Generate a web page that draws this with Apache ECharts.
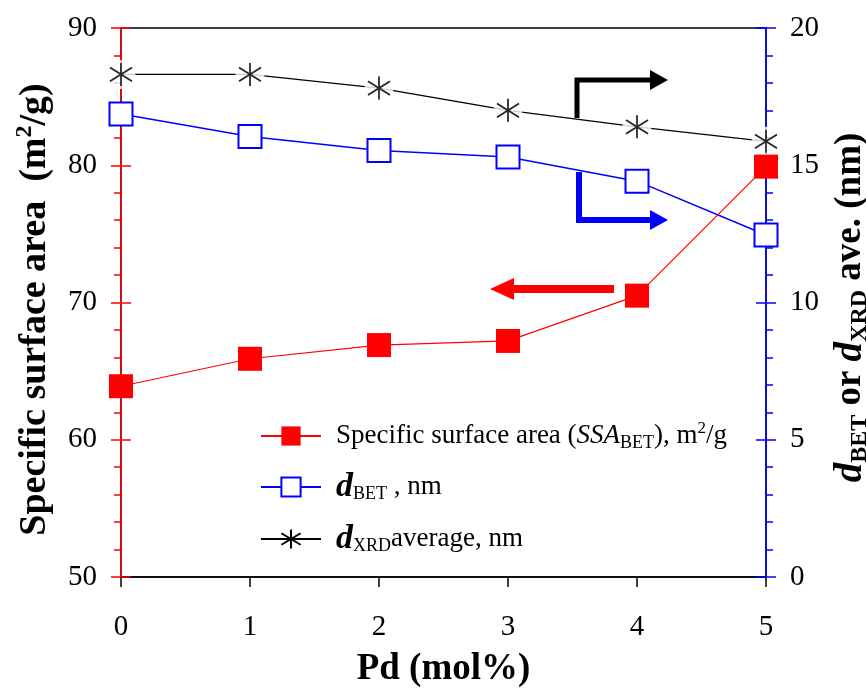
<!DOCTYPE html>
<html>
<head>
<meta charset="utf-8">
<script src="https://cdn.jsdelivr.net/npm/echarts@6/dist/echarts.min.js"></script>
<style>
  html, body { margin: 0; padding: 0; background: #fff; }
  #main { width: 866px; height: 691px; }
</style>
</head>
<body>
<div id="main"></div>
<script>
// Pd content (mol%)
var pd = [0, 1, 2, 3, 4, 5];
// specific surface area SSA_BET, m2/g (left axis)
var ssa = [63.9, 65.9, 66.9, 67.2, 70.5, 79.9];
// d_BET, nm (right axis)
var dBet = [16.87, 16.05, 15.54, 15.3, 14.42, 12.46];
// d_XRD average, nm (right axis)
var dXrd = [18.31, 18.31, 17.81, 17.0, 16.4, 15.87];

var serif = 'Liberation Serif';
var asterisk = 'path://M10,0L10,20M1,4L19,16M1,16L19,4';

function pairs(ys) {
  return pd.map(function (x, i) { return [x, ys[i]]; });
}

// hidden twin axis that only draws the inner half of the major ticks
function innerTicks(pos, min, max, interval, color) {
  return {
    type: 'value', position: pos, min: min, max: max, interval: interval,
    axisLine: { show: false },
    axisTick: { show: true, inside: true, length: 10, lineStyle: { color: color, width: 1.5 } },
    axisLabel: { show: false },
    splitLine: { show: false }
  };
}

var myChart = echarts.init(document.getElementById('main'));

myChart.setOption({
  animation: false,
  backgroundColor: '#fff',
  grid: {
    left: 121, right: 100, top: 28, bottom: 114,
    outerBoundsMode: 'none',
    show: true, borderColor: '#000', borderWidth: 1.5
  },
  legend: {
    orient: 'vertical',
    left: 255,
    top: 415,
    itemWidth: 60,
    itemHeight: 24,
    itemGap: 18,
    data: ['ssa', 'dbet', 'dxrd'],
    formatter: function (name) {
      if (name === 'ssa') return 'Specific surface area ({it|SSA}{sub|BET}), m{sup|2}/g';
      if (name === 'dbet') return '{d|d}{sub|BET} , nm';
      return '{d|d}{sub|XRD}average, nm';
    },
    textStyle: {
      fontFamily: serif, fontSize: 27, color: '#000', lineHeight: 32,
      padding: [0, 0, 0, 10],
      rich: {
        it: { fontFamily: serif, fontSize: 27, fontStyle: 'italic', lineHeight: 32 },
        d: { fontFamily: serif, fontSize: 34, fontStyle: 'italic', fontWeight: 'bold', lineHeight: 32 },
        sub: { fontFamily: serif, fontSize: 18, lineHeight: 14, verticalAlign: 'bottom' },
        sup: { fontFamily: serif, fontSize: 17, lineHeight: 14, verticalAlign: 'top' }
      }
    }
  },
  xAxis: {
    type: 'value',
    min: 0, max: 5, interval: 1,
    name: 'Pd (mol%)',
    nameLocation: 'middle',
    nameGap: 74,
    nameTextStyle: { fontFamily: serif, fontSize: 37, fontWeight: 'bold', color: '#000' },
    axisLine: { lineStyle: { color: '#000', width: 1.5 } },
    axisTick: { show: true, length: 10, lineStyle: { color: '#000', width: 1.5 } },
    axisLabel: { margin: 36, fontFamily: serif, fontSize: 29, color: '#000' },
    splitLine: { show: false }
  },
  yAxis: [
    {
      type: 'value',
      position: 'left',
      min: 50, max: 90, interval: 10,
      name: 'Specific surface area  (m{sup|2}/g)',
      nameLocation: 'middle',
      nameRotate: 90,
      nameGap: 55,
      nameTextStyle: {
        fontFamily: serif, fontSize: 38, fontWeight: 'bold', color: '#000', lineHeight: 44,
        padding: [0, 14, 0, 0],
        rich: {
          sup: { fontFamily: serif, fontSize: 24, fontWeight: 'bold', lineHeight: 20, verticalAlign: 'top' }
        }
      },
      axisLine: { show: true, lineStyle: { color: '#ff0000', width: 1.5 } },
      axisTick: { show: true, length: 10, lineStyle: { color: '#ff0000', width: 1.5 } },
      minorTick: { show: true, splitNumber: 5, length: 7, lineStyle: { color: '#ff0000', width: 1.5 } },
      axisLabel: { margin: 24, fontFamily: serif, fontSize: 29, color: '#000' },
      splitLine: { show: false }
    },
    {
      type: 'value',
      position: 'right',
      min: 0, max: 20, interval: 5,
      name: '{d|d}{sub|BET} or {d|d}{sub|XRD} ave. (nm)',
      nameLocation: 'middle',
      nameRotate: 90,
      nameGap: 50,
      nameTextStyle: {
        fontFamily: serif, fontSize: 37, fontWeight: 'bold', color: '#000', lineHeight: 42,
        padding: [0, 10, 0, 0],
        rich: {
          d: { fontFamily: serif, fontSize: 39, fontWeight: 'bold', fontStyle: 'italic', lineHeight: 42 },
          sub: { fontFamily: serif, fontSize: 24, lineHeight: 22, verticalAlign: 'bottom' }
        }
      },
      axisLine: { show: true, lineStyle: { color: '#0000ff', width: 1.5 } },
      axisTick: { show: true, length: 10, lineStyle: { color: '#0000ff', width: 1.5 } },
      minorTick: { show: true, splitNumber: 5, length: 7, lineStyle: { color: '#0000ff', width: 1.5 } },
      axisLabel: { margin: 24, fontFamily: serif, fontSize: 29, color: '#000' },
      splitLine: { show: false }
    },
    innerTicks('left', 50, 90, 10, '#ff0000'),
    innerTicks('right', 0, 20, 5, '#0000ff')
  ],
  series: [
    {
      name: 'dxrd',
      type: 'line',
      yAxisIndex: 1,
      data: pairs(dXrd),
      symbol: asterisk,
      symbolSize: [22, 23],
      itemStyle: { color: 'rgba(0,0,0,0)', borderColor: '#000', borderWidth: 1.8 },
      lineStyle: { color: '#000', width: 1.2 },
      z: 2
    },
    {
      // white halo that opens a gap in the d_XRD line round each point
      name: 'dxrd-gap',
      type: 'scatter',
      yAxisIndex: 1,
      data: pairs(dXrd),
      symbol: 'circle',
      symbolSize: 29,
      itemStyle: { color: '#fff' },
      silent: true,
      z: 3
    },
    {
      name: 'dxrd-mark',
      type: 'scatter',
      yAxisIndex: 1,
      data: pairs(dXrd),
      symbol: asterisk,
      symbolSize: [22, 23],
      itemStyle: { color: 'rgba(0,0,0,0)', borderColor: '#000', borderWidth: 1.8 },
      silent: true,
      z: 4
    },
    {
      name: 'dbet',
      type: 'line',
      yAxisIndex: 1,
      data: pairs(dBet),
      symbol: 'rect',
      symbolSize: 23,
      itemStyle: { color: '#fff', borderColor: '#0000ff', borderWidth: 2 },
      lineStyle: { color: '#0000ff', width: 1.5 },
      z: 5
    },
    {
      name: 'ssa',
      type: 'line',
      yAxisIndex: 0,
      data: pairs(ssa),
      symbol: 'rect',
      symbolSize: 24,
      itemStyle: { color: '#ff0000' },
      lineStyle: { color: '#ff0000', width: 1.2 },
      z: 6
    }
  ],
  graphic: [
    // black arrow -> right axis
    { type: 'polyline', shape: { points: [[577, 118], [577, 80], [652, 80]] },
      style: { stroke: '#000', lineWidth: 5, fill: null }, z: 10 },
    { type: 'polygon', shape: { points: [[650, 70], [668, 80], [650, 90]] },
      style: { fill: '#000' }, z: 10 },
    // blue arrow -> right axis
    { type: 'polyline', shape: { points: [[579, 172], [579, 220], [652, 220]] },
      style: { stroke: '#0000ff', lineWidth: 6, fill: null }, z: 10 },
    { type: 'polygon', shape: { points: [[650, 210], [668, 220], [650, 230]] },
      style: { fill: '#0000ff' }, z: 10 },
    // red arrow -> left axis
    { type: 'polyline', shape: { points: [[614, 289], [511, 289]] },
      style: { stroke: '#ff0000', lineWidth: 8, fill: null }, z: 10 },
    { type: 'polygon', shape: { points: [[514, 278], [490, 289], [514, 300]] },
      style: { fill: '#ff0000' }, z: 10 }
  ]
});
</script>
</body>
</html>
